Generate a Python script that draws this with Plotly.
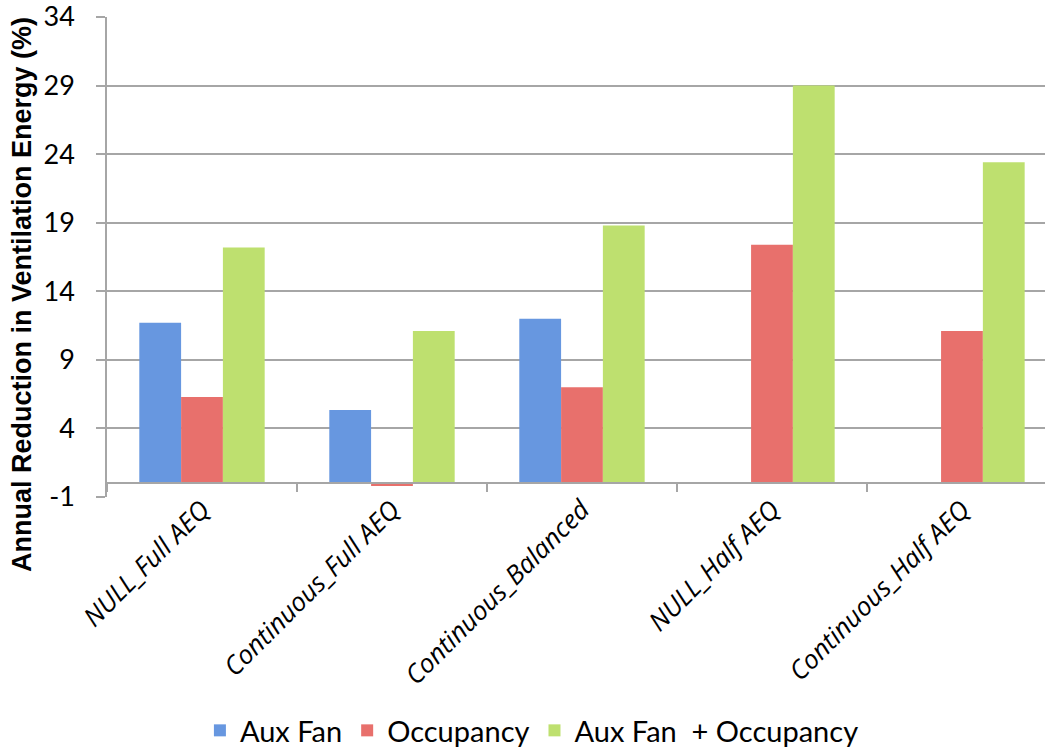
import plotly.graph_objects as go

# Scenario categories and annual ventilation energy reductions (%)
categories = ["NULL_Full AEQ", "Continuous_Full AEQ", "Continuous_Balanced",
              "NULL_Half AEQ", "Continuous_Half AEQ"]
aux_fan = [11.7, 5.35, 12.0, 0.0, 0.0]
occupancy = [6.3, -0.2, 7.0, 17.4, 11.1]
aux_fan_occupancy = [17.2, 11.1, 18.8, 29.0, 23.4]

y_ticks = [-1, 4, 9, 14, 19, 24, 29, 34]
y_tick_text = ["-1", "4", "9", "14", "19", "24", "29", "34"]

series = [
    ("Aux Fan", aux_fan, "#6797E0"),
    ("Occupancy", occupancy, "#E8706C"),
    ("Aux Fan  + Occupancy", aux_fan_occupancy, "#BEE06F"),
]

fig = go.Figure()
for name, values, color in series:
    fig.add_trace(go.Bar(
        x=categories, y=values, name=name,
        marker=dict(color=color, line=dict(width=0)),
    ))

grid = "#A6A6A6"
fig.update_layout(
    width=1045, height=756,
    margin=dict(l=107, r=0, t=17, b=254),
    paper_bgcolor="white", plot_bgcolor="white",
    barmode="group", bargap=0.34, bargroupgap=0,
    font=dict(family="Lato, Open Sans, sans-serif", color="black"),
    showlegend=True,
    legend=dict(
        orientation="h", x=0.453, xanchor="center", y=-0.487, yanchor="middle",
        font=dict(size=29, family="Lato, sans-serif", color="black"),
        itemwidth=30, traceorder="normal",
    ),
    xaxis=dict(
        type="category",
        range=[-0.5, 4.437],
        anchor="free", position=1 / 35,
        automargin=False,
        showline=True, linecolor=grid, linewidth=1.5,
        ticks="outside", ticklen=8, tickcolor=grid, tickwidth=1.5,
        tickson="boundaries",
        showgrid=False,
        tickangle=-45,
        tickfont=dict(size=26, style="italic", family="Open Sans, sans-serif",
                      color="black"),
    ),
    yaxis=dict(
        range=[-1, 34],
        automargin=False,
        tickmode="array", tickvals=y_ticks, ticktext=y_tick_text,
        ticklabeloverflow="allow",
        showgrid=True, gridcolor=grid, gridwidth=1.5,
        zeroline=False,
        showline=True, linecolor=grid, linewidth=1.5,
        ticks="outside", ticklen=9, tickcolor=grid, tickwidth=1.5,
        ticklabelstandoff=16,
        tickfont=dict(size=27, family="Lato, sans-serif", color="black"),
    ),
    annotations=[dict(
        text="<b>Annual Reduction in Ventilation Energy (%)</b>",
        xref="paper", yref="paper", x=-0.0906, y=0.421,
        xanchor="center", yanchor="middle", textangle=-90, showarrow=False,
        font=dict(size=27, family="Liberation Sans, Arial, sans-serif",
                  color="black"),
    )],
)

fig.write_html("out.html")
